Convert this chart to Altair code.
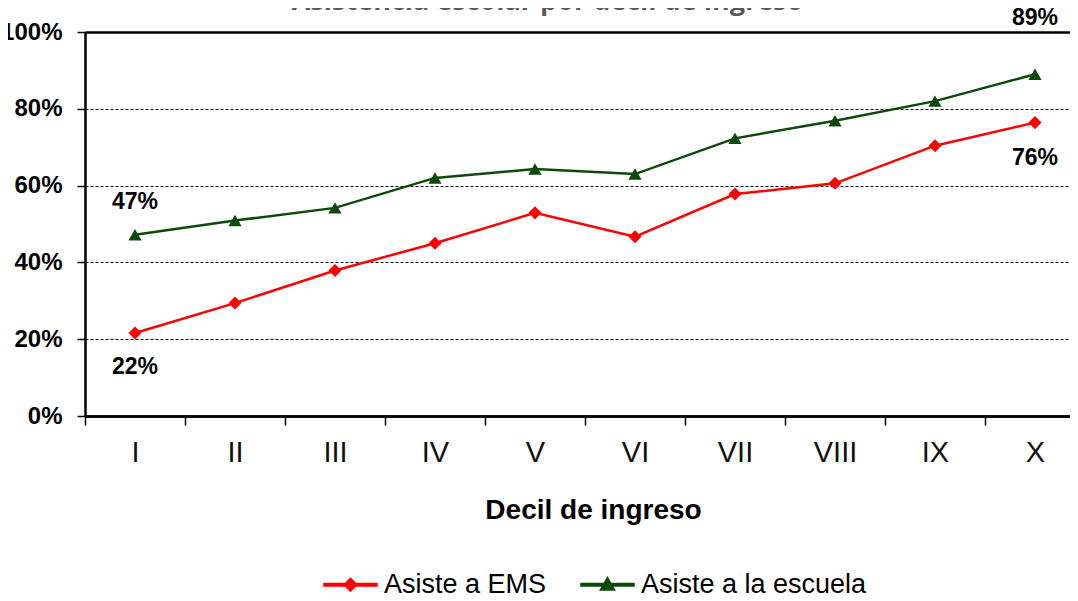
import altair as alt
import pandas as pd

# ---------------- data ----------------
deciles = ["I", "II", "III", "IV", "V", "VI", "VII", "VIII", "IX", "X"]
series_names = ["Asiste a EMS", "Asiste a la escuela"]
ems = [21.6, 29.4, 37.9, 45.0, 52.9, 46.7, 57.8, 60.6, 70.4, 76.4]
escuela = [47.2, 50.9, 54.2, 62.0, 64.3, 63.0, 72.3, 76.9, 82.0, 89.0]
y_ticks = [0, 0.2, 0.4, 0.6, 0.8, 1.0]
# labelled points: (series, decile, vertical offset of the label in px)
labelled = [
    ("Asiste a EMS", "I", 34),
    ("Asiste a la escuela", "I", -33),
    ("Asiste a EMS", "X", 35),
    ("Asiste a la escuela", "X", -56),
]

colors = ["#FF0000", "#0B4A0B"]
FONT = "Liberation Sans"

rows = []
for i, d in enumerate(deciles):
    rows.append({"decil": d, "pos": i + 1, "serie": series_names[0], "valor": ems[i] / 100})
    rows.append({"decil": d, "pos": i + 1, "serie": series_names[1], "valor": escuela[i] / 100})
df = pd.DataFrame(rows)

roman_js = "[" + ",".join("'%s'" % d for d in deciles) + "]"

x_enc = alt.X(
    "pos:Q",
    scale=alt.Scale(domain=[0.5, 10.35], nice=False, zero=False),
    axis=alt.Axis(
        values=[i + 0.5 for i in range(len(deciles))],
        labelExpr=roman_js + "[floor(datum.value)]",
        labelOffset=50,
        labelOverlap=False,
        labelBound=False,
        labelFlush=False,
        grid=False,
        domainColor="black",
        domainWidth=2.5,
        tickColor="black",
        tickWidth=1.5,
        tickSize=9,
        labelFont=FONT,
        labelFontSize=29,
        labelColor="#111111",
        labelPadding=13,
        title="Decil de ingreso",
        titleFont=FONT,
        titleFontSize=28,
        titleFontWeight="bold",
        titleColor="black",
        titleX=508,
        titleY=80,
        titleAlign="center",
        titleBaseline="top",
    ),
)

y_enc = alt.Y(
    "valor:Q",
    scale=alt.Scale(domain=[0, 1], nice=False),
    axis=alt.Axis(
        values=y_ticks,
        format=".0%",
        title=None,
        grid=True,
        gridColor="black",
        gridDash={"condition": {"test": "datum.value >= 1 || datum.value <= 0", "value": []}, "value": [3, 2]},
        gridWidth={"condition": {"test": "datum.value >= 1 || datum.value <= 0", "value": 2.5}, "value": 1},
        domainColor="black",
        domainWidth=2.5,
        tickColor="black",
        tickWidth=1.5,
        tickSize=8,
        labelFont=FONT,
        labelFontSize=24,
        labelFontWeight="bold",
        labelColor="black",
        labelPadding=15,
    ),
)

color_scale = alt.Scale(domain=series_names, range=colors)

legend = alt.Legend(
    title=None,
    orient="none",
    legendX=238,
    legendY=525,
    direction="horizontal",
    symbolSize=2809,
    labelFont=FONT,
    labelFontSize=27,
    labelColor="black",
    labelOffset=6,
    labelLimit=400,
    columnPadding=31,
    padding=0,
)
# line segment drawn as a thin filled bar, plus the marker
legend_paths = [
    "M-1,-0.05L1,-0.05L1,0.05L-1,0.05ZM0,-0.24L0.24,0L0,0.24L-0.24,0Z",
    "M-1,-0.05L1,-0.05L1,0.05L-1,0.05ZM0,-0.27L0.27,0.2L-0.27,0.2Z",
]
# first layer carries the legend (invisible marks of size 0)
legend_layer = alt.Chart(df).mark_point(filled=True, size=0, opacity=1).encode(
    x=x_enc,
    y=y_enc,
    color=alt.Color("serie:N", scale=color_scale, legend=legend),
    shape=alt.Shape("serie:N", scale=alt.Scale(domain=series_names, range=legend_paths), legend=legend),
)

lines = alt.Chart(df).mark_line(strokeWidth=2.5).encode(
    x=x_enc, y=y_enc, color=alt.Color("serie:N", scale=color_scale)
)

pts_ems = alt.Chart(df).transform_filter(alt.datum.serie == series_names[0]).mark_point(
    filled=True, shape="diamond", size=170, opacity=1
).encode(x=x_enc, y=y_enc, color=alt.Color("serie:N", scale=color_scale))

pts_esc = alt.Chart(df).transform_filter(alt.datum.serie == series_names[1]).mark_point(
    filled=True, shape="triangle-up", size=175, opacity=1
).encode(x=x_enc, y=y_enc, color=alt.Color("serie:N", scale=color_scale))

texts = []
for s, d, dy in labelled:
    texts.append(
        alt.Chart(df)
        .transform_filter((alt.datum.serie == s) & (alt.datum.decil == d))
        .mark_text(dy=dy, font=FONT, fontSize=23, fontWeight="bold", color="black", baseline="middle")
        .encode(x=x_enc, y=y_enc, text=alt.Text("valor:Q", format=".0%"))
    )

chart = (
    alt.layer(legend_layer, lines, pts_ems, pts_esc, *texts)
    .properties(
        width=985,
        height=384,
        title=alt.TitleParams(
            text="Asistencia escolar por decil de ingreso",
            font="Open Sans",
            fontSize=27,
            fontWeight="bold",
            color="#595959",
            anchor="middle",
            frame="group",
            offset=0,
            dx=-30,
            dy=30,
            baseline="alphabetic",
        ),
        autosize=alt.AutoSizeParams(type="none"),
        padding={"left": 77, "top": 24, "right": 0, "bottom": 184},
    )
    .configure_view(stroke=None)
)

chart.save("out.html", embed_options={"renderer": "svg", "actions": False})
